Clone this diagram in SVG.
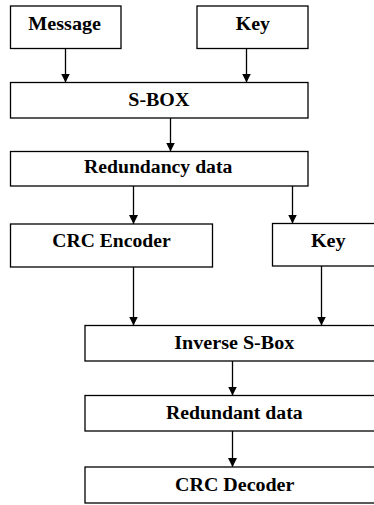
<svg xmlns="http://www.w3.org/2000/svg" width="374" height="505" viewBox="0 0 374 505">
<style>
.box{fill:#fff;stroke:#000;stroke-width:1.3}
.t{font-family:"Liberation Serif","Times New Roman",serif;font-weight:bold;font-size:18px;fill:#000;text-anchor:middle}
.big{font-size:19px}
.c{stroke:#000;stroke-width:1.3;fill:none}
</style>
<defs>
<marker id="ah" markerUnits="userSpaceOnUse" markerWidth="10" markerHeight="10" refX="9" refY="4.5" orient="auto" viewBox="0 0 10 9">
<path d="M0,0 L9,4.5 L0,9 Z" fill="#000"/>
</marker>
</defs>
<rect width="374" height="505" fill="#fff"/>
<g id="connectors">
<line class="c" x1="65.5" y1="48.5" x2="65.5" y2="82.5" marker-end="url(#ah)"/>
<line class="c" x1="246.5" y1="48.5" x2="246.5" y2="82.5" marker-end="url(#ah)"/>
<line class="c" x1="170.5" y1="118" x2="170.5" y2="151.5" marker-end="url(#ah)"/>
<line class="c" x1="133.5" y1="186" x2="133.5" y2="224" marker-end="url(#ah)"/>
<line class="c" x1="292.5" y1="186" x2="292.5" y2="223.5" marker-end="url(#ah)"/>
<line class="c" x1="133.5" y1="267" x2="133.5" y2="325.5" marker-end="url(#ah)"/>
<line class="c" x1="321.5" y1="266" x2="321.5" y2="325.5" marker-end="url(#ah)"/>
<line class="c" x1="232.5" y1="361" x2="232.5" y2="395.5" marker-end="url(#ah)"/>
<line class="c" x1="232.5" y1="431" x2="232.5" y2="467" marker-end="url(#ah)"/>
</g>
<g id="message">
<rect class="box" x="10.5" y="6" width="110.5" height="42.5"/>
<text class="t big" x="64.7" y="30" textLength="72.7" lengthAdjust="spacingAndGlyphs">Message</text>
</g>
<g id="key1">
<rect class="box" x="197" y="6" width="111" height="42.5"/>
<text class="t big" x="252.8" y="30" textLength="34.3" lengthAdjust="spacingAndGlyphs">Key</text>
</g>
<g id="sbox">
<rect class="box" x="10.5" y="82.5" width="297.5" height="35.5"/>
<text class="t" x="158.8" y="105.5" textLength="61" lengthAdjust="spacingAndGlyphs">S-BOX</text>
</g>
<g id="redundancy">
<rect class="box" x="10.5" y="151.5" width="297.5" height="34.5"/>
<text class="t" x="158.2" y="173.3" textLength="148.3" lengthAdjust="spacingAndGlyphs">Redundancy data</text>
</g>
<g id="crcenc">
<rect class="box" x="10.5" y="224" width="202" height="43"/>
<text class="t" x="111.5" y="247.3" textLength="118.3" lengthAdjust="spacingAndGlyphs">CRC Encoder</text>
</g>
<g id="key2">
<rect class="box" x="272.5" y="223.5" width="110" height="42.5"/>
<text class="t" x="328.3" y="247.3" textLength="34.7" lengthAdjust="spacingAndGlyphs">Key</text>
</g>
<g id="invsbox">
<rect class="box" x="85" y="325.5" width="300" height="35.5"/>
<text class="t" x="234.3" y="349.3" textLength="120" lengthAdjust="spacingAndGlyphs">Inverse S-Box</text>
</g>
<g id="redundant">
<rect class="box" x="85" y="395.5" width="300" height="35.5"/>
<text class="t" x="234.3" y="419.3" textLength="136.7" lengthAdjust="spacingAndGlyphs">Redundant data</text>
</g>
<g id="crcdec">
<rect class="box" x="85" y="467" width="300" height="36"/>
<text class="t" x="234.7" y="490.8" textLength="119.3" lengthAdjust="spacingAndGlyphs">CRC Decoder</text>
</g>
</svg>
